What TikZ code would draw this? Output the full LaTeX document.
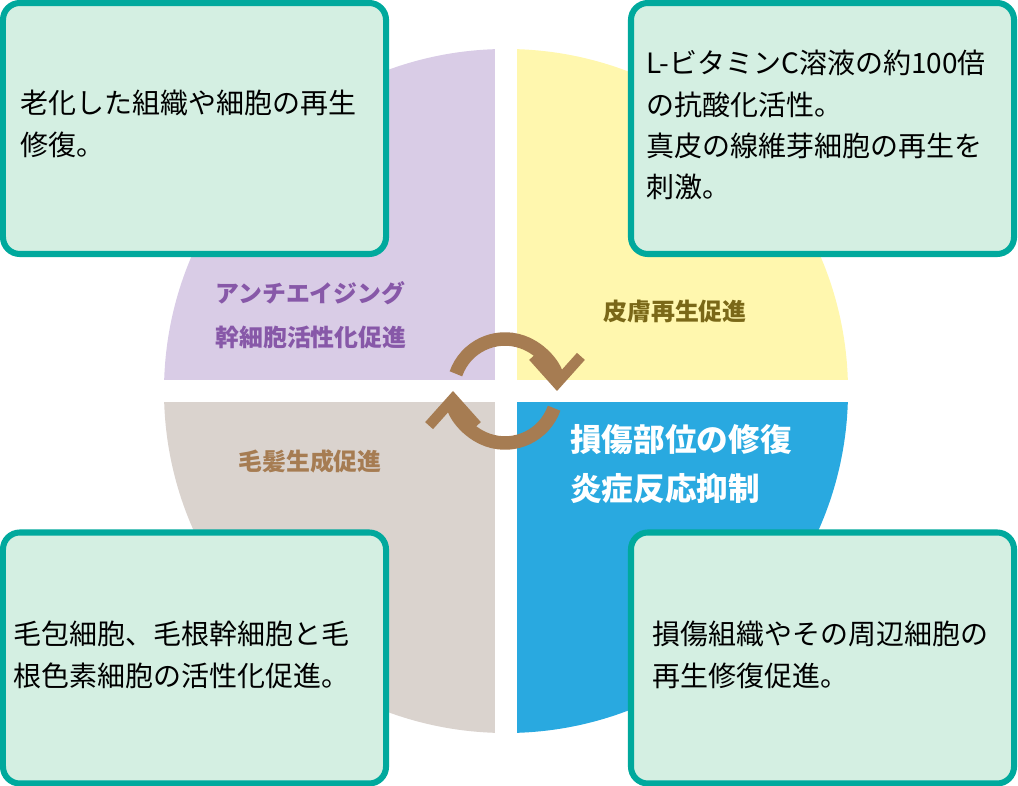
\documentclass[tikz,border=0pt]{standalone}
\usepackage{fontspec}
\newfontfamily\jpfont{Noto Sans CJK JP}
\usetikzlibrary{arrows.meta}
\definecolor{lavender}{HTML}{D9CCE6}
\definecolor{paleyellow}{HTML}{FFF7AE}
\definecolor{greige}{HTML}{DAD3CE}
\definecolor{skyblue}{HTML}{29A9E0}
\definecolor{tealline}{HTML}{00A99D}
\definecolor{mintfill}{HTML}{D4EFE2}
\definecolor{violettext}{HTML}{8758A8}
\definecolor{olivetext}{HTML}{7A6818}
\definecolor{cyclebrown}{HTML}{A67C52}

\begin{document}
\begin{tikzpicture}[x=0.025cm,y=-0.025cm,
    card/.style={draw=tealline, fill=mintfill, line width=4.3pt, rounded corners=12pt,
      minimum width=272.4pt, minimum height=178.5pt, inner sep=0pt},
    cardtext/.style={anchor=west, align=left, inner sep=0pt,
      font=\jpfont\fontsize{19.9pt}{29.5pt}\selectfont},
    tag/.style={anchor=west, align=left, inner sep=0pt,
      font=\jpfont\bfseries\fontsize{17pt}{31.3pt}\selectfont},
    bigtag/.style={anchor=west, align=left, inner sep=0pt, text=white,
      font=\jpfont\bfseries\fontsize{22.5pt}{34.9pt}\selectfont},
    cyclearrow/.style={draw=cyclebrown, line width=9.6pt,
      -{Straight Barb[length=19pt, width=34pt, line width=7.5pt]}}]
  \useasboundingbox (0,0) rectangle (1018,786);

  \fill[lavender] (506,391) -- ++(-342,0) arc[start angle=180, end angle=270, radius=342] -- cycle;
  \fill[paleyellow] (506,391) -- ++(0,-342) arc[start angle=270, end angle=360, radius=342] -- cycle;
  \fill[skyblue] (506,391) -- ++(342,0) arc[start angle=0, end angle=90, radius=342] -- cycle;
  \fill[greige] (506,391) -- ++(0,342) arc[start angle=90, end angle=180, radius=342] -- cycle;
  \fill[white] (495,40) rectangle (517,745);
  \fill[white] (150,380) rectangle (860,402);

  \node[tag, text=violettext] (anti) at (215,315) {アンチエイジング\\幹細胞活性化促進};
  \node[tag, text=olivetext] (skin) at (603,311) {皮膚再生促進};
  \node[tag, text=cyclebrown] (hair) at (238,461) {毛髪生成促進};
  \node[bigtag] (repair) at (570,464) {損傷部位の修復\\炎症反応抑制};

  \draw[cyclearrow] (505,391) ++(199.3:52) arc[start angle=199.3, end angle=360, radius=52];
  \draw[cyclearrow] (505,391) ++(19.3:52) arc[start angle=19.3, end angle=180, radius=52];

  \node[card] (oldbox) at (194.5,128.5) {};
  \node[card] (vitabox) at (822.5,128.5) {};
  \node[card] (folliclebox) at (194.5,658) {};
  \node[card] (tissuebox) at (822.5,658) {};

  \node[cardtext] (oldtext) at (20,124) {老化した組織や細胞の再生\\修復。};
  \node[cardtext, font=\jpfont\fontsize{19.9pt}{29.2pt}\selectfont] (vitatext) at (646,125)
    {L-ビタミンC溶液の約100倍\\の抗酸化活性。\\真皮の線維芽細胞の再生を\\刺激。};
  \node[cardtext] (follicletext) at (13,655) {毛包細胞、毛根幹細胞と毛\\根色素細胞の活性化促進。};
  \node[cardtext] (tissuetext) at (652,655) {損傷組織やその周辺細胞の\\再生修復促進。};
\end{tikzpicture}
\end{document}
